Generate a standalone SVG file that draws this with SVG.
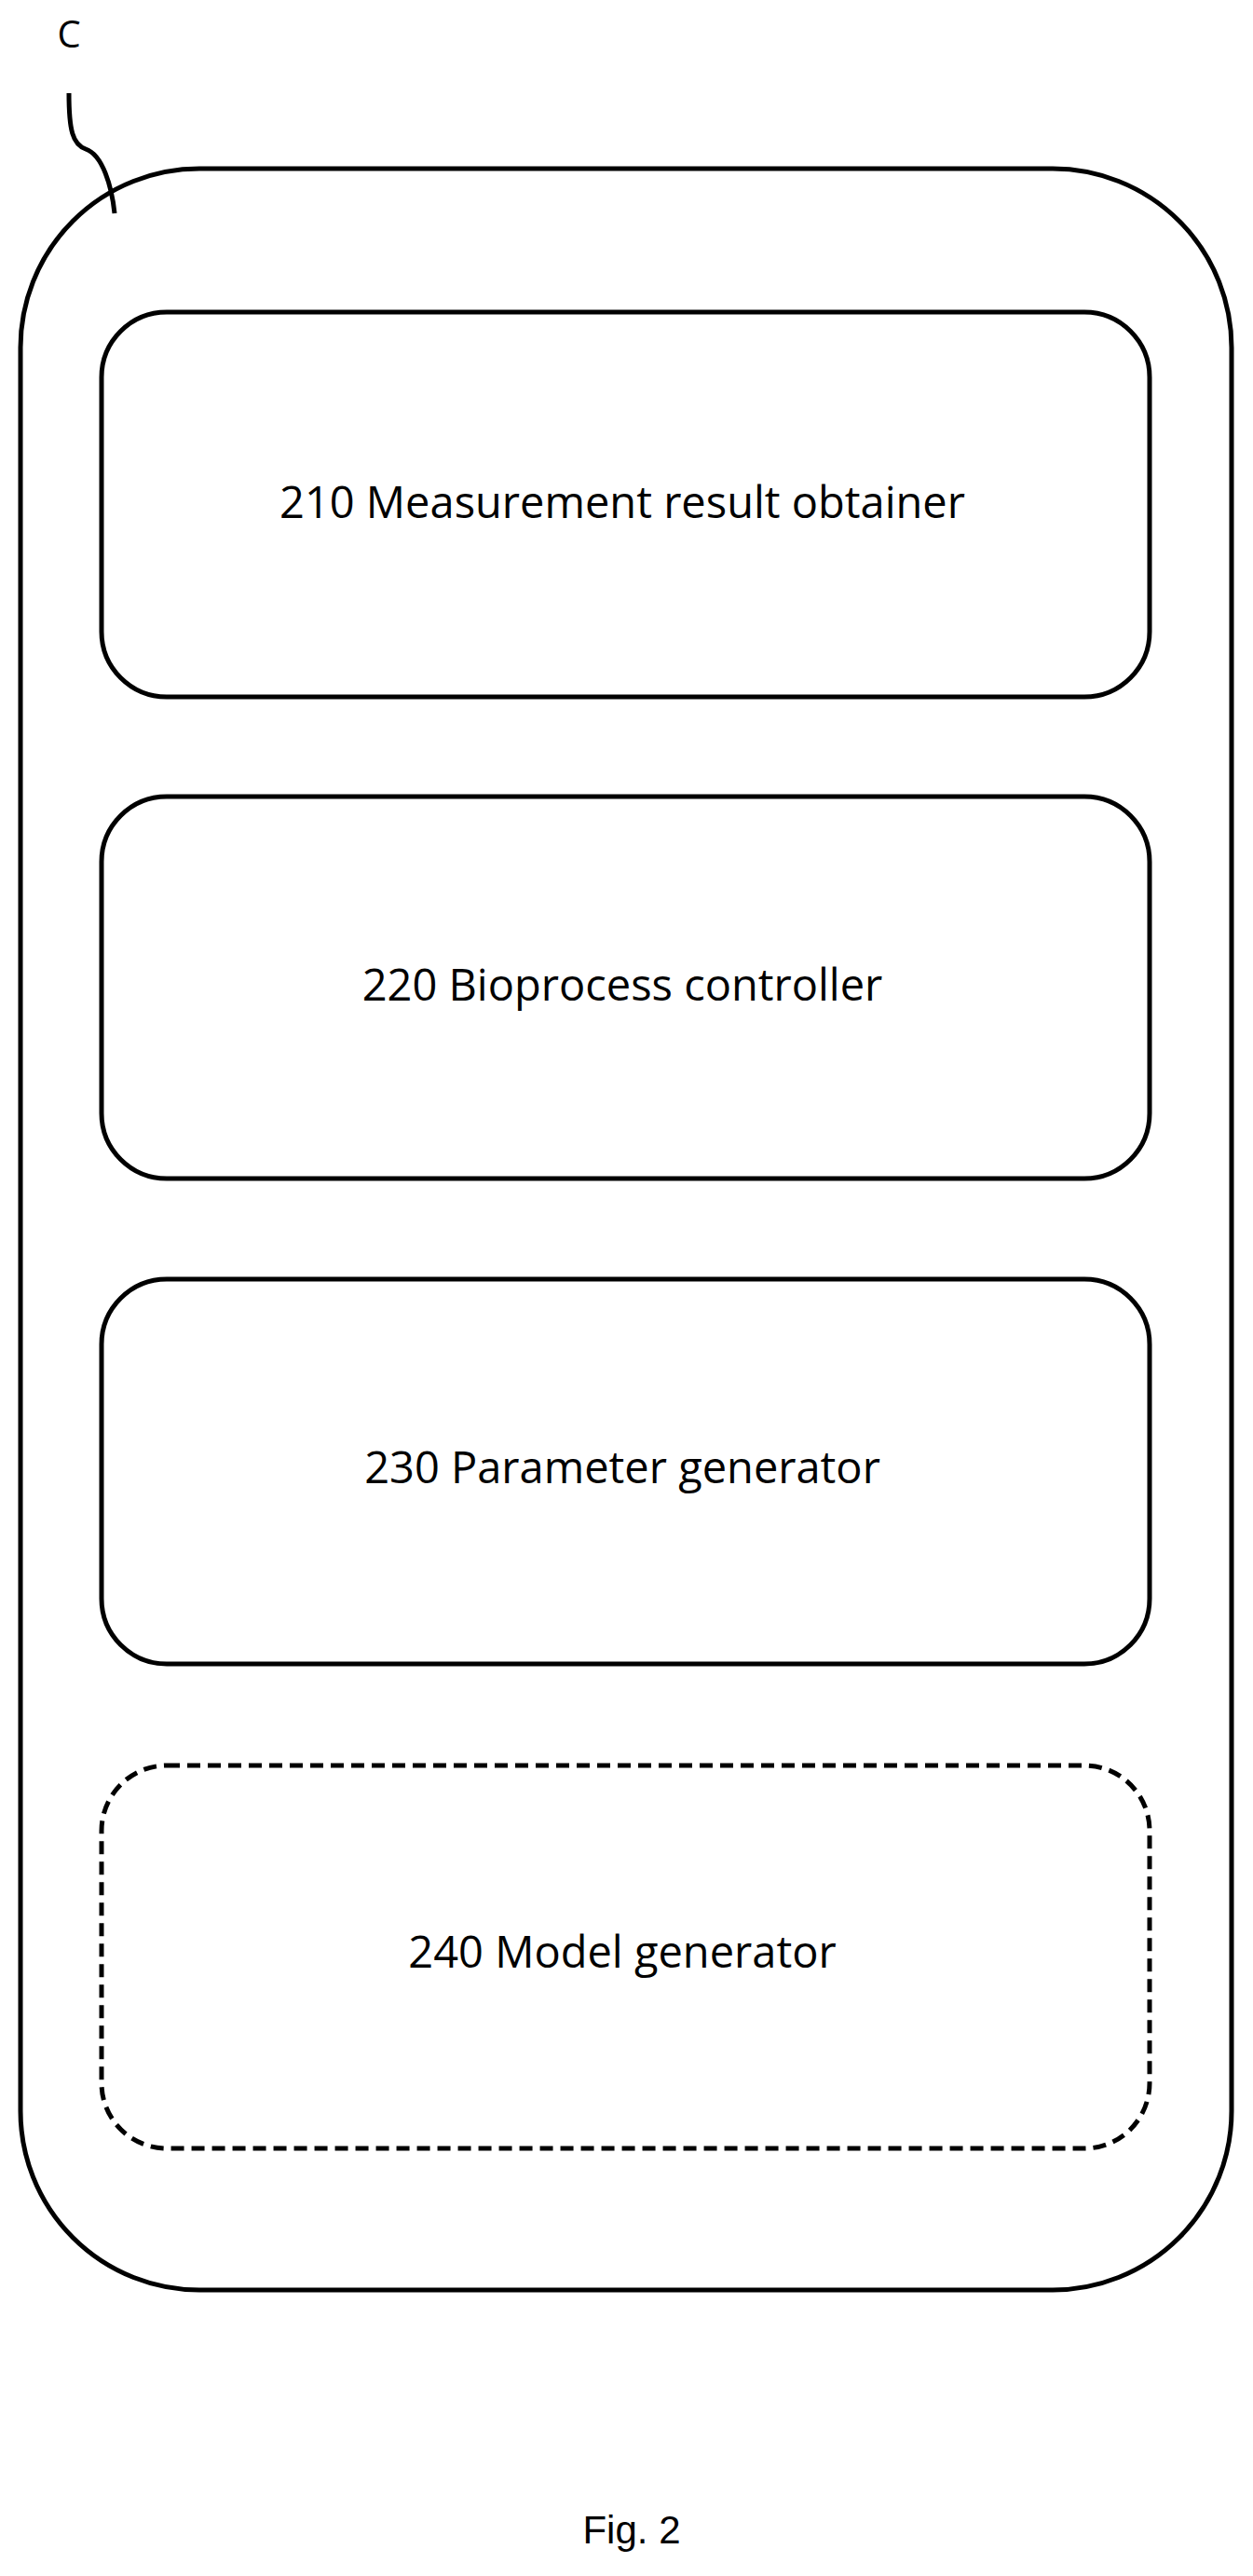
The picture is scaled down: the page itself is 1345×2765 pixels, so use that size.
<svg xmlns="http://www.w3.org/2000/svg" width="1345" height="2765" viewBox="0 0 1345 2765">
<style>
.b{fill:none;stroke:#000;stroke-width:5}
.d{stroke-dasharray:14 8}
text{font-family:"Open Sans","Liberation Sans",sans-serif;font-size:47px;text-anchor:middle;fill:#000}
</style>
<rect width="1345" height="2765" fill="#fff"/>
<g id="C"><rect class="b" x="22" y="181" width="1300" height="2277" rx="192" ry="192"/>
<text x="74" y="51" style="font-size:40px">C</text></g>
<g id="connectors"><path class="b" d="M74,100 C74,140 78,155 92,160 C110,166 120,200 123,229"/></g>
<g id="n210"><rect class="b" x="109" y="335" width="1125" height="413" rx="70"/><text x="668" y="556">210 Measurement result obtainer</text></g>
<g id="n220"><rect class="b" x="109" y="855" width="1125" height="410" rx="70"/><text x="668" y="1074">220 Bioprocess controller</text></g>
<g id="n230"><rect class="b" x="109" y="1373" width="1125" height="413" rx="70"/><text x="668" y="1592">230 Parameter generator</text></g>
<g id="n240"><rect class="b d" x="109" y="1895" width="1125" height="411" rx="70"/><text x="668" y="2112">240 Model generator</text></g>
<text x="678" y="2730" style="font-family:'Liberation Sans',sans-serif;font-size:42px">Fig. 2</text>
</svg>
